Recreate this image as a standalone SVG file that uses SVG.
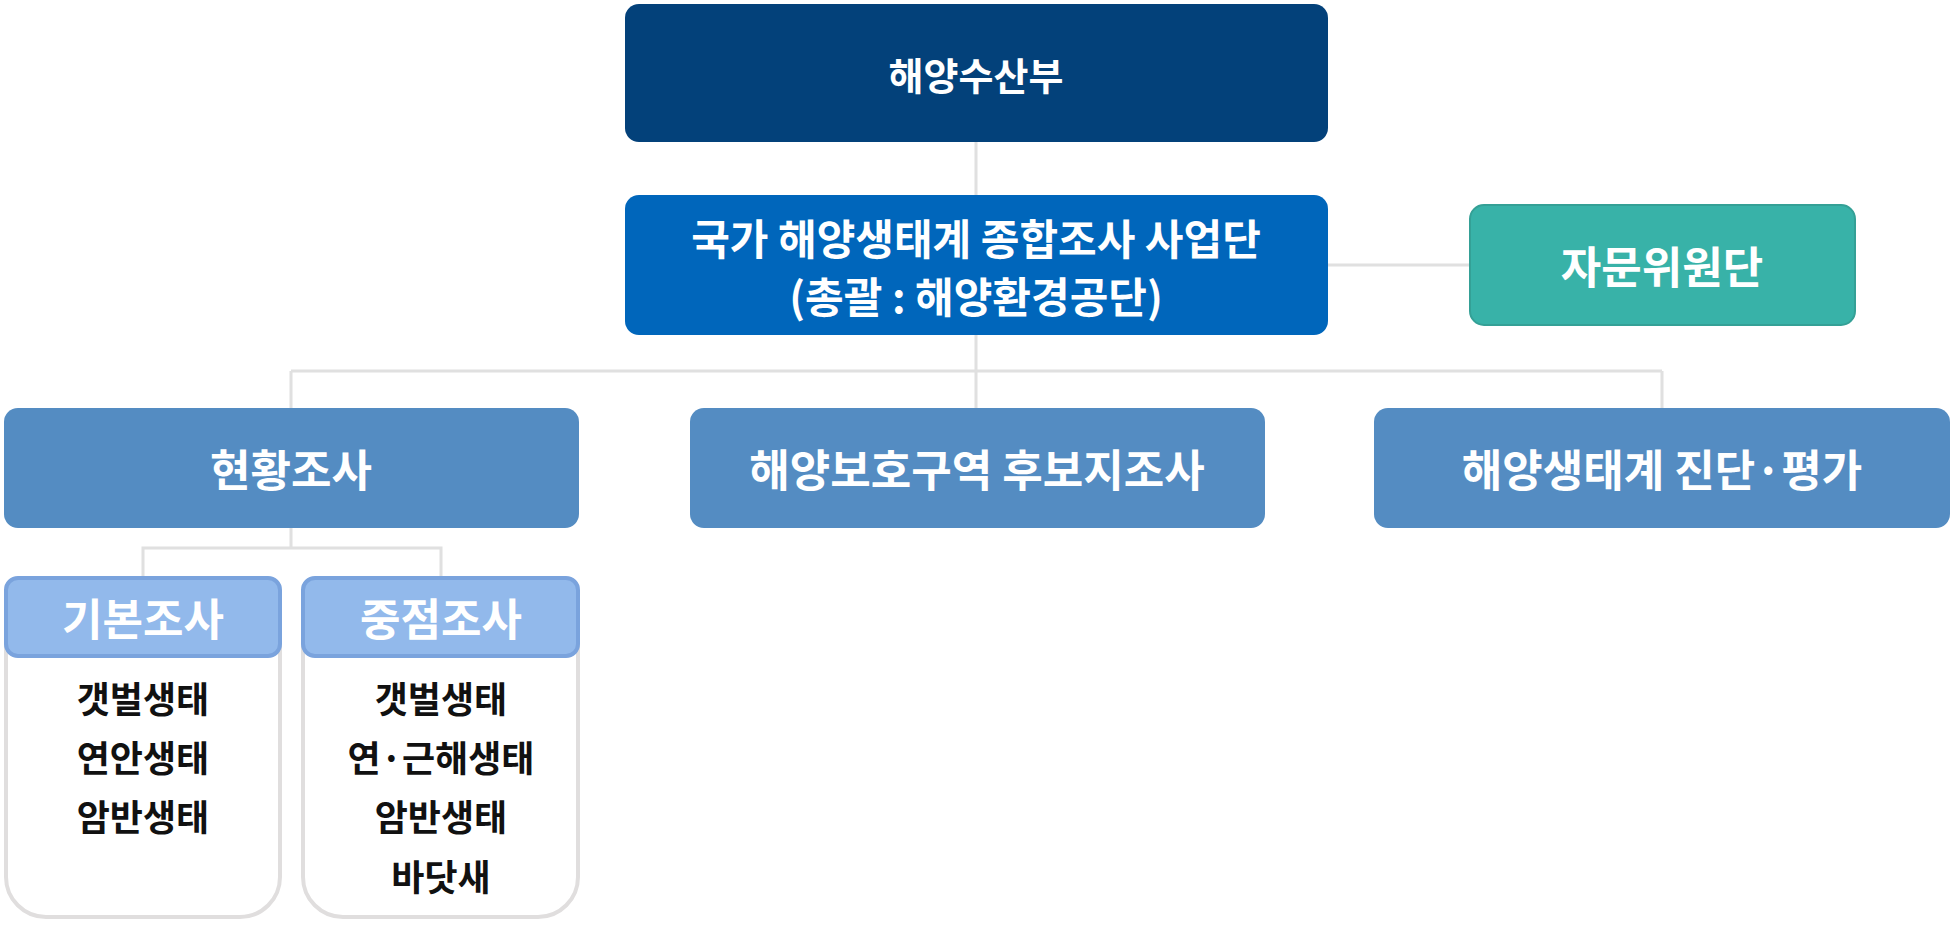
<svg xmlns="http://www.w3.org/2000/svg" width="1952" height="925" viewBox="0 0 1952 925">
<style>
text{font-family:"Noto Sans CJK KR","Noto Sans",sans-serif;text-anchor:middle;dominant-baseline:central}
.w{fill:#fff;font-weight:700}
.k{fill:#111;font-weight:700;font-size:36px}
.c{stroke:#E0E0E0;stroke-width:3;fill:none}
</style>
<rect width="1952" height="925" fill="#fff"/>
<g id="connectors">
<path class="c" d="M976 142V195M1328 265H1470M976 335V408M291 371H1662M291 371V408M1662 371V408M291 528V548H143V576M291 548H441V576"/>
</g>
<g id="n1"><rect x="625" y="4" width="703" height="138" rx="14" fill="#03417A"/><text class="w" x="976" y="73" font-size="38">해양수산부</text></g>
<g id="n2"><rect x="625" y="195" width="703" height="140" rx="14" fill="#0066BB"/><text class="w" x="976" y="236" font-size="42">국가 해양생태계 종합조사 사업단</text><text class="w" x="976" y="294" font-size="42">(총괄 : 해양환경공단)</text></g>
<g id="n3"><rect x="1470" y="205" width="385" height="120" rx="14" fill="#38B2A8" stroke="#34A096" stroke-width="2"/><text class="w" x="1662" y="265" font-size="44">자문위원단</text></g>
<g id="n4"><rect x="4" y="408" width="575" height="120" rx="14" fill="#548CC2"/><text class="w" x="291" y="468" font-size="44">현황조사</text></g>
<g id="n5"><rect x="690" y="408" width="575" height="120" rx="14" fill="#548CC2"/><text class="w" x="977" y="468" font-size="44">해양보호구역 후보지조사</text></g>
<g id="n6"><rect x="1374" y="408" width="576" height="120" rx="14" fill="#548CC2"/><text class="w" x="1662" y="468" font-size="44">해양생태계 진단·평가</text></g>
<g id="n7"><rect x="6" y="580" width="274" height="337" rx="40" fill="#fff" stroke="#E0DEDE" stroke-width="4"/><rect x="6" y="578" width="274" height="78" rx="12" fill="#92B9EB" stroke="#7AA3DD" stroke-width="4"/><text class="w" x="143" y="617" font-size="44">기본조사</text>
<text class="k" x="143" y="697">갯벌생태</text><text class="k" x="143" y="756">연안생태</text><text class="k" x="143" y="815">암반생태</text></g>
<g id="n8"><rect x="303" y="580" width="275" height="337" rx="40" fill="#fff" stroke="#E0DEDE" stroke-width="4"/><rect x="303" y="578" width="275" height="78" rx="12" fill="#92B9EB" stroke="#7AA3DD" stroke-width="4"/><text class="w" x="441" y="617" font-size="44">중점조사</text>
<text class="k" x="441" y="697">갯벌생태</text><text class="k" x="441" y="756">연·근해생태</text><text class="k" x="441" y="815">암반생태</text><text class="k" x="441" y="875">바닷새</text></g>
</svg>
